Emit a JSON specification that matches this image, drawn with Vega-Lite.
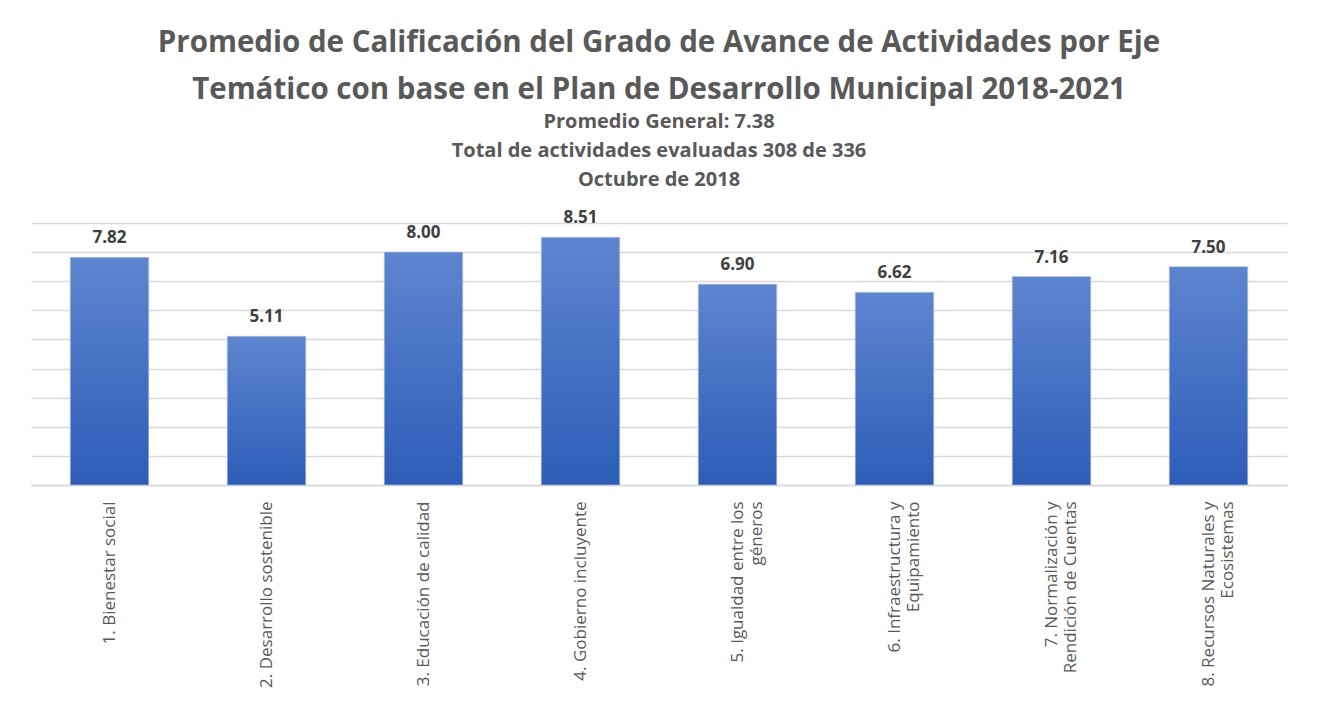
{
  "$schema": "https://vega.github.io/schema/vega-lite/v6.json",
  "autosize": "none",
  "width": 1256,
  "height": 262,
  "padding": {"left": 31, "top": 223, "right": 30, "bottom": 218},
  "background": "white",
  "title": {
    "text": ["Promedio de Calificación del Grado de Avance de Actividades por Eje", "Temático con base en el Plan de Desarrollo Municipal 2018-2021"],
    "subtitle": ["Promedio General: 7.38", "Total de actividades evaluadas 308 de 336", "Octubre de 2018"],
    "font": "Open Sans",
    "fontSize": 29.5,
    "fontWeight": "bold",
    "color": "#595959",
    "lineHeight": 47,
    "subtitleFont": "Open Sans",
    "subtitleFontSize": 20,
    "subtitleFontWeight": "bold",
    "subtitleColor": "#595959",
    "subtitleLineHeight": 29,
    "subtitlePadding": 7,
    "anchor": "middle",
    "frame": "group",
    "offset": 18
  },
  "data": {
    "values": [
      {"eje": "1. Bienestar social", "valor": 7.82},
      {"eje": "2. Desarrollo sostenible", "valor": 5.11},
      {"eje": "3. Educación de calidad", "valor": 8.00},
      {"eje": "4. Gobierno incluyente", "valor": 8.51},
      {"eje": "5. Igualdad entre los\ngéneros", "valor": 6.90},
      {"eje": "6. Infraestructura y\nEquipamiento", "valor": 6.62},
      {"eje": "7. Normalización y\nRendición de Cuentas", "valor": 7.16},
      {"eje": "8. Recursos Naturales y\nEcosistemas", "valor": 7.50}
    ]
  },
  "encoding": {
    "x": {
      "field": "eje",
      "type": "nominal",
      "sort": null,
      "scale": {"paddingInner": 0.5, "paddingOuter": 0.25},
      "axis": {
        "title": null,
        "labelAngle": -90,
        "labelAlign": "right",
        "labelBaseline": "middle",
        "labelFont": "Open Sans",
        "labelFontSize": 17,
        "labelColor": "#595959",
        "labelLineHeight": 19,
        "labelPadding": 16,
        "labelLimit": 400,
        "labelExpr": "split(datum.label, '\\n')",
        "ticks": false,
        "domainColor": "#d9d9d9",
        "domainWidth": 1.5,
        "grid": false
      }
    },
    "y": {
      "field": "valor",
      "type": "quantitative",
      "scale": {"domain": [0, 9]},
      "axis": {
        "title": null,
        "labels": false,
        "ticks": false,
        "domain": false,
        "values": [0, 1, 2, 3, 4, 5, 6, 7, 8, 9],
        "gridColor": "#d9d9d9",
        "gridWidth": 1.5
      }
    }
  },
  "layer": [
    {
      "mark": {
        "type": "bar",
        "color": {
          "gradient": "linear",
          "x1": 0, "y1": 0, "x2": 0, "y2": 1,
          "stops": [
            {"offset": 0, "color": "#5e85cf"},
            {"offset": 1, "color": "#2d5db8"}
          ]
        },
        "stroke": "#b9c3d6",
        "strokeWidth": 1,
        "strokeOpacity": 0.6
      }
    },
    {
      "mark": {
        "type": "text",
        "font": "Open Sans",
        "fontSize": 17,
        "fontWeight": "bold",
        "color": "#404040",
        "baseline": "alphabetic",
        "dy": -14
      },
      "encoding": {
        "text": {"field": "valor", "type": "quantitative", "format": ".2f"}
      }
    }
  ],
  "config": {
    "view": {"stroke": null}
  }
}
